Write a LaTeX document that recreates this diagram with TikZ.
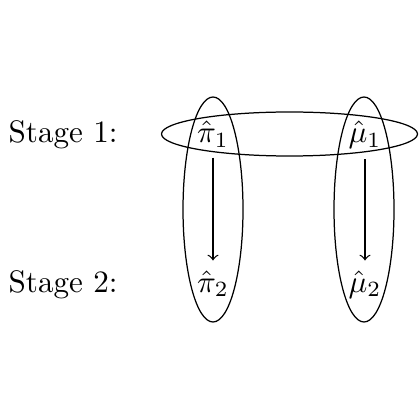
\documentclass[tikz,border=0pt]{standalone}
\begin{document}
\begin{tikzpicture}[x=0.3214pt,y=-0.3214pt,
  lbl/.style={inner sep=0pt,anchor=base west},
  var/.style={inner sep=3pt,anchor=base},
  grp/.style={draw,line width=0.4pt}]
\useasboundingbox (0,0) rectangle (420,420);
\node[lbl] (s1) at (8,143) {Stage 1:};
\node[lbl] (s2) at (8,292) {Stage 2:};
\node[var] (p1) at (213,143) {$\hat{\pi}_1$};
\node[var] (m1) at (365,143) {$\hat{\mu}_1$};
\node[var] (p2) at (213,292) {$\hat{\pi}_2$};
\node[var] (m2) at (365,292) {$\hat{\mu}_2$};
\draw[grp] (289.5,134) ellipse [x radius=128, y radius=22];
\draw[grp] (213,209.5) ellipse [x radius=30, y radius=112.5];
\draw[grp] (364,209.5) ellipse [x radius=30, y radius=112.5];
\draw[->] (p1) -- (p2);
\draw[->] (m1) -- (m2);
\end{tikzpicture}
\end{document}
